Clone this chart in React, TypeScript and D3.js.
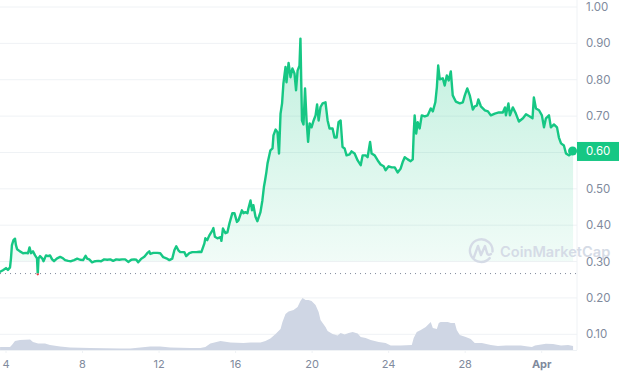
import React from "react";
import * as d3 from "d3";

const priceDays = [3.69,3.84,4.00,4.10,4.21,4.26,4.31,4.39,4.47,4.52,4.58,4.73,4.89,5.05,5.15,5.23,5.31,5.41,5.52,5.62,5.66,5.70,5.78,5.89,5.96,6.09,6.20,6.30,6.41,6.51,6.67,6.83,6.98,7.09,7.25,7.40,7.56,7.72,7.87,8.03,8.16,8.24,8.35,8.50,8.66,8.82,8.97,9.13,9.29,9.45,9.60,9.76,9.92,10.07,10.23,10.39,10.55,10.70,10.81,10.91,11.07,11.23,11.38,11.49,11.54,11.70,11.91,12.06,12.22,12.38,12.54,12.69,12.80,12.90,13.01,13.11,13.32,13.42,13.58,13.74,13.95,14.11,14.21,14.37,14.42,14.52,14.63,14.79,14.84,14.92,15.05,15.21,15.26,15.34,15.47,15.57,15.68,15.83,15.94,16.07,16.15,16.33,16.41,16.51,16.62,16.67,16.78,16.86,16.93,17.04,17.14,17.30,17.40,17.48,17.54,17.61,17.67,17.82,17.93,17.98,18.09,18.19,18.27,18.35,18.43,18.50,18.61,18.66,18.77,18.87,18.97,19.08,19.16,19.24,19.34,19.39,19.47,19.55,19.63,19.71,19.79,19.87,19.97,20.08,20.18,20.26,20.34,20.44,20.55,20.70,20.81,20.91,21.07,21.17,21.28,21.38,21.49,21.59,21.70,21.80,21.96,22.06,22.22,22.38,22.54,22.64,22.80,22.90,23.03,23.11,23.27,23.43,23.58,23.74,23.84,24.00,24.16,24.32,24.47,24.63,24.73,24.84,25.00,25.15,25.26,25.31,25.36,25.44,25.52,25.62,25.73,25.89,26.04,26.20,26.31,26.44,26.52,26.59,26.67,26.83,26.93,27.04,27.14,27.25,27.35,27.51,27.72,27.88,27.98,28.11,28.24,28.40,28.50,28.61,28.69,28.82,29.03,29.19,29.34,29.55,29.76,29.97,30.08,30.13,30.26,30.34,30.49,30.65,30.81,31.02,31.18,31.38,31.52,31.59,31.70,31.86,32.01,32.12,32.22,32.38,32.48,32.64,32.80,32.90,33.01,33.16,33.27,33.43,33.53,33.64];
const priceValues = [.272,.276,.282,.277,.284,.309,.345,.359,.363,.345,.334,.328,.323,.324,.323,.339,.323,.328,.317,.309,.265,.309,.315,.309,.301,.317,.315,.317,.306,.301,.309,.313,.309,.304,.302,.301,.304,.308,.305,.304,.316,.308,.306,.298,.301,.302,.301,.306,.305,.306,.302,.306,.305,.306,.306,.299,.305,.306,.305,.298,.308,.313,.323,.328,.321,.324,.324,.323,.312,.309,.304,.308,.331,.342,.331,.326,.326,.315,.323,.326,.326,.327,.326,.350,.364,.359,.372,.386,.392,.368,.364,.367,.357,.391,.378,.380,.405,.433,.433,.409,.413,.441,.433,.436,.433,.446,.468,.441,.455,.423,.411,.436,.468,.505,.523,.546,.570,.606,.611,.647,.663,.656,.597,.707,.735,.790,.835,.793,.846,.807,.831,.817,.771,.825,.839,.913,.688,.677,.776,.688,.629,.680,.669,.688,.702,.732,.688,.725,.735,.738,.688,.666,.666,.641,.641,.683,.688,.615,.611,.592,.595,.603,.597,.578,.565,.592,.592,.587,.629,.597,.592,.578,.567,.562,.551,.562,.559,.559,.545,.556,.573,.587,.581,.576,.581,.652,.702,.652,.683,.666,.702,.699,.702,.721,.713,.738,.779,.839,.801,.804,.784,.812,.798,.823,.757,.740,.735,.738,.757,.776,.757,.718,.727,.729,.746,.727,.716,.713,.702,.707,.710,.710,.724,.702,.735,.702,.724,.707,.685,.694,.705,.699,.694,.751,.721,.716,.702,.669,.694,.702,.669,.677,.669,.641,.625,.619,.597,.592,.597,.604];

const volumeDays = [3.69,4.21,4.31,4.47,4.73,5.26,5.41,5.68,6.04,6.30,6.83,7.35,8.40,9.97,10.49,11.02,11.54,12.06,12.59,13.63,14.16,14.42,14.68,15.21,15.73,16.41,16.78,17.30,17.56,17.82,18.09,18.35,18.45,18.61,18.77,19.03,19.24,19.39,19.50,19.66,19.81,19.97,20.18,20.34,20.44,20.55,20.70,20.81,21.07,21.33,21.49,21.70,21.91,22.12,22.38,22.54,22.80,23.06,23.48,23.84,24.11,24.63,25.21,25.31,25.47,25.68,25.94,26.20,26.31,26.52,26.62,26.72,27.09,27.25,27.46,27.56,27.72,28.03,28.29,28.50,28.87,29.34,29.71,30.13,30.91,31.28,31.49,31.65,32.22,32.59,33.01,33.38,33.64];
const volumeValues = [30,30,50,90,100,105,80,65,65,50,35,25,20,15,15,25,35,35,25,20,20,30,65,90,75,70,75,75,90,115,160,210,280,360,385,400,430,490,520,500,500,490,450,380,300,270,230,190,160,145,170,155,170,180,165,130,120,100,80,70,45,45,50,120,180,200,230,280,220,210,270,280,280,270,270,200,150,130,110,70,70,50,40,45,45,35,30,45,63,60,45,50,40];

const gridValues = [1.0,0.9,0.8,0.7,0.6,0.5,0.4,0.3,0.2,0.1];
const xTickDays = [4,8,12,16,20,24,28,32];
const xTickLabels = ["4","8","12","16","20","24","28","Apr"];
const lastPrice = 0.6;
const baselinePrice = 0.267;
const floorPrice = 0.3;

const WIDTH = 619;
const HEIGHT = 376;
const PLOT_RIGHT = 577;
const PLOT_BOTTOM = 350;
const GREEN = "#16c784";
const GREY = "#808a9d";
const FONT = "Inter, sans-serif";

const x = d3.scaleLinear().domain([4, 32]).range([6, 541.7]);
const y = d3.scaleLinear().domain([0.1, 1.0]).range([334.3, 7]);
const yVolume = d3.scaleLinear().domain([0, 520]).range([PLOT_BOTTOM, 298]);

const pricePoints = priceDays.map((d, i) => [d, priceValues[i]] as [number, number]);
const volumePoints = volumeDays.map((d, i) => [d, volumeValues[i]] as [number, number]);

const priceLine = d3.line<[number, number]>().x((d) => x(d[0])).y((d) => y(d[1]));
const priceArea = d3
  .area<[number, number]>()
  .x((d) => x(d[0]))
  .y0(y(floorPrice))
  .y1((d) => y(d[1]));
const volumeArea = d3
  .area<[number, number]>()
  .x((d) => x(d[0]))
  .y0(PLOT_BOTTOM)
  .y1((d) => yVolume(d[1]));

export default function App() {
  const last = pricePoints[pricePoints.length - 1];
  const baseY = y(baselinePrice);
  return (
    <svg
      width={WIDTH}
      height={HEIGHT}
      viewBox={`0 0 ${WIDTH} ${HEIGHT}`}
      style={{ position: "absolute", left: 0, top: 0, fontFamily: FONT }}
    >
      <defs>
        <linearGradient id="fill" gradientUnits="userSpaceOnUse" x1="0" x2="0" y1={y(0.92)} y2={y(floorPrice)}>
          <stop offset="0" stopColor={GREEN} stopOpacity={0.27} />
          <stop offset="1" stopColor={GREEN} stopOpacity={0.06} />
        </linearGradient>
        <clipPath id="aboveFloor">
          <rect x={0} y={0} width={PLOT_RIGHT} height={y(floorPrice)} />
        </clipPath>
        <clipPath id="aboveBase">
          <rect x={0} y={0} width={PLOT_RIGHT} height={baseY} />
        </clipPath>
        <clipPath id="belowBase">
          <rect x={0} y={baseY} width={PLOT_RIGHT} height={HEIGHT - baseY} />
        </clipPath>
      </defs>
      <rect width={WIDTH} height={HEIGHT} fill="#fff" />

      {gridValues.map((v) => (
        <line key={v} x1={0} x2={PLOT_RIGHT} y1={y(v)} y2={y(v)} stroke="#eff2f5" strokeWidth={1} />
      ))}
      <line x1={PLOT_RIGHT} x2={PLOT_RIGHT} y1={0} y2={PLOT_BOTTOM} stroke="#eff2f5" />
      <line x1={0} x2={PLOT_RIGHT} y1={PLOT_BOTTOM + 0.5} y2={PLOT_BOTTOM + 0.5} stroke="#eff2f5" />

      <path d={priceArea(pricePoints) ?? ""} fill="url(#fill)" clipPath="url(#aboveFloor)" />
      <path d={volumeArea(volumePoints) ?? ""} fill="#cfd6e4" />

      <line
        x1={0}
        x2={PLOT_RIGHT}
        y1={baseY}
        y2={baseY}
        stroke="#808a9d"
        strokeWidth={1}
        strokeDasharray="1 4"
      />

      <g fill="none" strokeWidth={2.4} strokeLinejoin="round" strokeLinecap="round">
        <path d={priceLine(pricePoints) ?? ""} stroke={GREEN} clipPath="url(#aboveBase)" />
        <path d={priceLine(pricePoints) ?? ""} stroke="#ea3943" clipPath="url(#belowBase)" />
      </g>
      <circle cx={x(last[0]) - 0.5} cy={y(last[1])} r={4.5} fill={GREEN} />

      {xTickDays.map((d, i) => (
        <g key={d}>
          <line x1={x(d)} x2={x(d)} y1={PLOT_BOTTOM} y2={PLOT_BOTTOM + 3} stroke="#eff2f5" />
          <text
            x={x(d)}
            y={368}
            textAnchor="middle"
            fontSize={11}
            fontWeight={xTickLabels[i] === "Apr" ? 700 : 400}
            fill={GREY}
          >
            {xTickLabels[i]}
          </text>
        </g>
      ))}

      <g>
        <path
          d="M491.6 254.6 A11.3 11.3 0 1 1 492 247.6"
          fill="none"
          stroke="#d5dbe6"
          strokeWidth={2.4}
          strokeLinecap="round"
          transform="rotate(20 480.7 251)"
        />
        <path
          d="M474 257 L478 246 L481 255 L485 246 L487 253 Q488 256 491 254"
          fill="none"
          stroke="#d5dbe6"
          strokeWidth={2.4}
          strokeLinejoin="round"
          strokeLinecap="round"
        />
        <text x={500} y={256.8} fontSize={14.6} fontWeight={600} fill="#d5dbe6">
          CoinMarketCap
        </text>
      </g>

      {gridValues
        .filter((v) => v !== lastPrice)
        .map((v) => (
          <text key={v} x={586} y={y(v)} dy="0.35em" fontSize={11.5} fill={GREY}>
            {v.toFixed(2)}
          </text>
        ))}
      <rect x={PLOT_RIGHT} y={y(lastPrice) - 10.5} width={WIDTH - PLOT_RIGHT} height={19} fill={GREEN} />
      <text x={586} y={y(lastPrice) - 1} dy="0.35em" fontSize={11.5} fill="#fff">
        {lastPrice.toFixed(2)}
      </text>
    </svg>
  );
}
